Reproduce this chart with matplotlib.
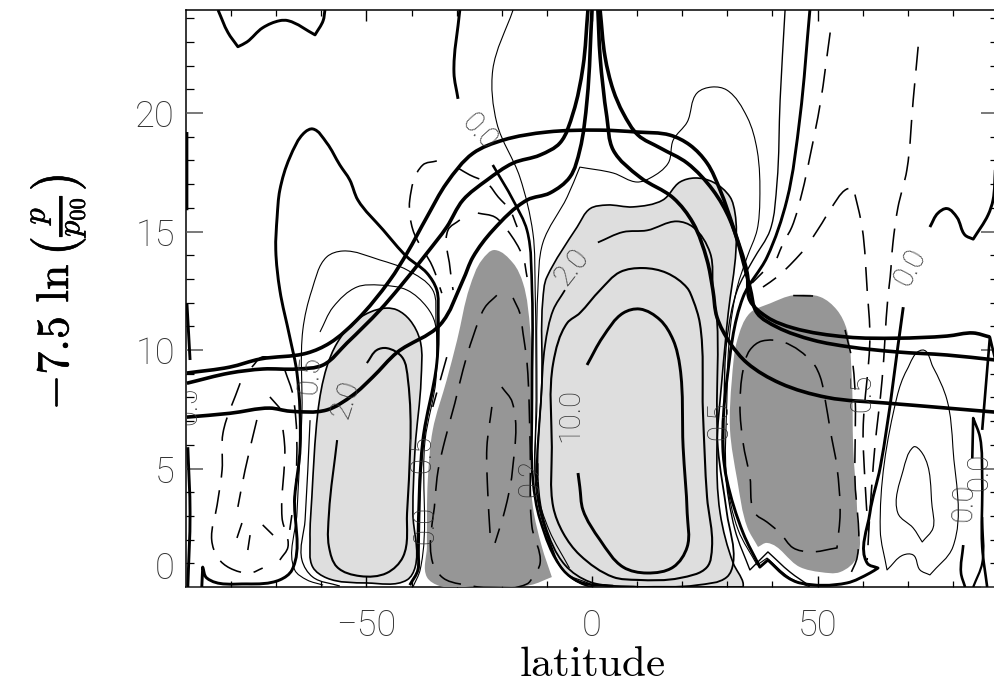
import math
import matplotlib
matplotlib.use("Agg")
import matplotlib.pyplot as plt
import matplotlib.patheffects as pe
from matplotlib.path import Path
from matplotlib.patches import PathPatch
from matplotlib.ticker import FixedLocator

# ---------- filled regions ----------
light_a_lat = [-60.8,-62.1,-62.5,-61.9,-58.8,-49.9,-41,-39.2,-39.7,-39.2,-37.9,-38.1,-40.4,-43.2,-45.5,-49.2,-53,-56.5,-58.8,-60.8]
light_a_z = [7.34,3.8,2,.84,.38,.17,.3,.84,3.12,5.9,8.73,10.4,11.27,11.69,11.77,11.6,11.14,10.3,9.28,7.34]
light_b_lat = [-10,-10.9,-11.1,-12,-10,-6.4,-1.6,10.6,33.5,33.5,31.3,28.4,27.7,28.8,30.2,31.9,31.7,30.6,26.8,22.8,19.5,15.7,9.1,3.3,-.4,-3.3,-10]
light_b_z = [13.08,12.11,8.74,3.8,2.28,.72,.08,0,0,.17,1.01,3.12,5.9,8.74,11.56,14.2,15.78,16.46,17.09,17.26,17.09,16.33,16.04,16.12,15.97,15.19,13.08]
dark_c_lat = [-21.5,-17.5,-15.3,-13.7,-13.3,-13.7,-13.1,-11.1,-8.9,-13.7,-24.8,-33.7,-36.6,-36.6,-36.4,-35.3,-32.2,-29.9,-27.1,-24.4,-21.5]
dark_c_z = [14.22,13.67,12.83,10.85,8.02,5.9,3.38,1.69,.42,.08,.04,.04,.42,1.69,4.51,6.63,8.74,10.42,12.66,13.8,14.22]
dark_d_lat = [44.6,50.6,54.3,56.5,57.6,57.9,58.8,58.8,55,50.6,46.1,38.8,36.8,34.4,32.2,30.6,31,32.2,35,39.5,44.6]
dark_d_z = [12.31,12.24,11.69,10.85,8.74,5.9,3.12,1.27,.63,.63,.84,1.86,1.69,2.53,4.51,6.63,8.74,10.42,11.56,11.97,12.31]

# ---------- thick temperature-like curves ----------
t1_lat = [-89.8,-80.3,-73.6,-63.2,-58.1,-52.1,-44.8,-41,-36.6,-32.2,-26.4,-19.7,-10,1.8,10,17.3,21.7,25.5,28.4,31.3,34.4,35,38.8,44.6,56.5,67.6,78.7,84.5,88.2]
t1_z = [9.03,9.28,9.62,9.87,10.3,11.27,12.95,14.09,15.61,17.05,18.3,18.86,19.2,19.28,19.2,19.07,18.65,17.89,16.75,15.19,13.25,12.1,11.39,10.93,10.55,10.5,10.59,10.72,10.55]
t2l_lat = [-89.8,-80.3,-72.9,-65.4,-59.6,-54.3,-47,-42.6,-36.6,-32.2,-28.6,-23.3,-17.5,-11.5,-7.1,-4.2,-2,-.9]
t2l_z = [8.6,9.03,9.2,9.2,9.37,10.3,11.69,12.66,14.09,15.19,16.33,17.17,17.89,18.23,18.74,20,21.95,24.35]
t2r_lat = [1.8,2.9,4.7,6.9,10.2,15.1,21.1,26.8,30.6,35,36.6,41,49,57.2,67.6,78.7,89.4]
t2r_z = [24.35,22.37,20.97,20,19.07,18.53,17.89,16.75,15.49,12.66,11.56,10.97,10.42,10.13,9.92,9.79,9.58]
t3l_lat = [-89.8,-80.3,-71.4,-67,-58.8,-53,-48.6,-43.2,-33.7,-28.6,-26.4,-22,-14.4,-9.3,-4.9,-2.7,-1.1,0]
t3l_z = [7.17,7.33,7.55,7.42,7.47,8.1,8.86,9.9,11.06,12.95,13.92,15.05,16.33,16.63,17.3,18.44,20.55,24.35]
t3r_lat = [1.3,1.8,3.3,4.7,10.6,18,22.4,25.5,26.8,27.7,30.6,34.4,41.7,52.1,65.4,71.2,78.7,89.4]
t3r_z = [24.35,22.37,19.83,18.44,17.3,16.42,15.36,13.8,12.53,11.39,10.3,9.45,8.6,8,7.76,7.67,7.55,7.38]

# ---------- solid contours ----------
c10_lat = [-1.1,2.4,6.9,10.6,15.1,18,19.5,20.2,21.1,21.1,18,12.2,6.9,1.8,-2,-2.7,-3.1]
c10_z = [9.37,10.55,11.56,11.73,11.27,10.42,9.28,5.9,3.12,1.69,.84,.59,.84,1.98,3.25,4.22,4.81]
c5_lat = [-2.7,1.8,6.2,11.3,16.6,21.1,22.4,23.9,24.6,25.5,26.6,25.5,19.5,10,4.7,-2.7,-6.4,-8.6,-8.9,-8.6,-5.5,-2.7]
c5_z = [11.56,12.53,13.29,13.46,13.25,12.62,12.11,11.14,7.34,3.8,1.69,.84,.38,.3,.42,1.35,2.28,3.38,5.9,9.45,11.14,11.56]
m1r_lat = [1.3,6.9,12.2,18.8,22.4,26.2,26.8,27.7,27.7,27.9,29.9,31.3,29.9,23.3,10.6]
m1r_z = [14.54,14.98,15.05,15.43,15.19,14.09,12.53,11.27,7.34,5.9,3.12,1.01,.42,.08,0]
m1l_lat = [-6,-8.6,-10.4,-11.3,-12,-10.4,-6,-.4,10.6]
m1l_z = [12.53,11.69,10.21,7.89,4.51,2.62,.93,.21,0]
z0l_lat = [-22,-17.5,-14.4,-13.3,-13.3,-13.1,-11.5,-6.4,-2.7,4.7]
z0l_z = [17.81,16.33,15.05,12.53,8.02,4.51,2.83,.72,.21,.04]
z0r_lat = [69,63.9,61.6,61,63.4,61.6,56.5,46.1,43.2,39,37.2,33.5,29.9,29,29.9,33.5,38.8,43.2,46.1,48.3]
z0r_z = [11.81,5.06,3.12,1.01,.8,.59,.17,.17,.42,1.14,.84,2.28,4.51,5.9,8.73,12.24,13.92,16.33,19.83,24.35]
thin1_lat = [-17.5,-22,-21.1,-16,-13.1,-12.6,-12.4,-12.4,-10.4,-6,-.4]
thin1_z = [24.35,21.82,19.58,17.3,14.94,12.53,7.89,4.09,2.41,.63,.13]
thin2_lat = [-5,-9.5,-12.2,-12.2,-12,-10.9,-5.5,-2.7,4.7,10,12.9,16.9,18,21.1,23.3,26.6,29.9,34.4,36.6,37.2,36.6,34.4,32.2,30.6,29.9,29.9,32.4,36.6,38.8,43.9,48.3]
thin2_z = [.8,2.4,4.09,7.89,12.53,14.52,16.46,17.72,17.47,17.09,17.26,17.89,18.86,19.62,20.85,21.1,20.97,19.83,18.44,16.33,15.07,13.93,12.66,10.85,7.89,4.5,2.41,.93,1.22,.38,0]
thin3_lat = [42.8,41.7,41,39.5,35.7,32.2,29.9,29.3,29.5,31.7,35,39,43.9,48.3]
thin3_z = [24.35,20.55,17.05,15.07,13.8,12.53,10.42,7.89,4.94,2.41,.72,1.48,.63,.04]
loop_lat = [73.2,69.8,67.6,63.9,65.4,69,71.2,72.7,74.9,80,80,78.7,75.6,73.2]
loop_z = [10,9.16,8.02,2.41,.72,1.35,1.35,.72,.51,1.69,5.9,7.89,9.28,10]
inner_lat = [71.2,69,67.8,71.2,73.2,75.6,75.4,73.2,71.2]
inner_z = [5.9,4.94,3.12,2.49,1.9,2.49,3.38,5.65,5.9]
r1_lat = [84.3,84.5,86,86.5,86.5,87.6]
r1_z = [5.44,7.13,6.33,4.51,1.69,0]
r2_lat = [82.3,81.8,82.7]
r2_z = [1.77,.59,0]
r3_lat = [86.5,86.5,84.5]
r3_z = [2.95,1.01,0]
r4_lat = [86.5,88.2,89.4]
r4_z = [6.63,10.55,9.58]
r5_lat = [74.9,76.7,78.7,80.9,82.7,84.5,87.8,88.9,89.4]
r5_z = [15.19,15.78,15.97,15.6,14.85,14.68,15.7,16.33,17.6]
l1_lat = [-82.9,-80.7,-78.5,-76.5,-73,-69.2,-67.4,-61.4,-59.6,-59.2]
l1_z = [24.35,23.4,22.8,23,23.6,23.9,23.9,23.3,23.9,24.35]
l2_lat = [-29.3,-30.6,-29.7]
l2_z = [24.35,21.7,20.6]
l3_lat = [-86.5,-86.3,-85.4,-76.5,-69.2,-66.5,-65.9,-64.7,-65.4,-67,-69.2,-70.1,-69.8,-69.2,-67,-63.6,-61.9,-58.8,-55.9,-53.7,-51.9,-46.3,-41,-36.6,-34.4,-34.1,-34.4,-37.5,-38.6,-38.6,-40.4]
l3_z = [0,.84,.38,.13,.3,.72,3.8,5.9,9.03,10.55,12.53,14.22,15.61,16.75,18.12,19.2,19.33,18.74,17.81,17.18,16.33,15.07,13.93,13.25,12.53,11.56,9.45,6.2,1.69,.72,.08]
l4_lat = [-89.8,-89.1]
l4_z = [11.98,9.58]
l5_lat = [-89.6,-89.1,-89.6]
l5_z = [5.9,3.12,0]
l6_lat = [-89.8,-89.8]
l6_z = [19.2,15.9]
s1_lat = [-59.6,-63.2,-65.9,-65.4,-64.3,-64.1,-62.1,-58.8,-55.2,-47,-41,-35.3,-34.6,-34.6,-37,-38.1,-39.7]
s1_z = [.08,.3,.72,3.12,7.34,10.85,12.53,13.93,14.18,13.8,13.38,12.53,11.27,8.74,6.2,.72,0]
s2_lat = [-60.3,-57.4,-52.1,-47,-41,-36.6,-34.8,-34.8,-36.6,-37.7,-38.4]
s2_z = [10.76,11.81,12.66,12.74,12.53,11.81,11.14,8.73,7.04,5.23,.72]
s3_lat = [-62.5,-63.6,-64.3,-61.9,-55.9]
s3_z = [7.04,2.83,1.14,.42,.04]
s4_lat = [-56.5,-58.3,-58.3,-56.5,-51.4,-45.5,-41.9,-41,-40.8,-42.1,-45.5,-47.7,-49.9]
s4_z = [6.2,3.12,1.69,.84,.46,.59,1.27,3.12,8.74,9.7,10.08,10,9.45]

# ---------- dashed contours ----------
d1_lat = [52.8,50.6,48.3,46.6,44.3,42.4,41]
d1_z = [23.4,20.4,18.15,16.67,15.19,14.52,13.88]
d2_lat = [72.3,71.2,69.8,67.8,66.7,66.1,65.6,64.3,62.7,61.6,61]
d2_z = [22.8,20.55,17.6,16,14.5,13.08,12.24,8.73,5.9,3.12,1.14]
d3_lat = [49,51,53.2,56.1,57.9,59.9,61,61.6,60.1,60.5,61.2]
d3_z = [14.77,15.36,16.04,16.75,16.88,15.15,12.53,10.55,6.63,4.51,2.4]
d4_lat = [46.6,43.9,41,37.9]
d4_z = [14.14,13.59,13.08,12.66]
d5_lat = [37.9,35.5]
d5_z = [13.29,12.83]
d6_lat = [-34.4,-37.5,-40.4,-39.7,-35.3,-33.3]
d6_z = [17.98,17.81,16.33,15.07,13.5,12.4]
d7_lat = [-29.7,-27.1,-23.3,-20.8,-18.2,-16.6]
d7_z = [17.68,17.39,17.05,16.46,15.91,15.19]
d8_lat = [-29.3,-31.9,-31.5,-30.8]
d8_z = [15.49,15.07,13.5,12.53]
d9_lat = [-25.3,-21.5,-18.8,-15.3,-14.4]
d9_z = [15.78,15.61,15.07,13.93,13.08]
d10_lat = [-32.2,-35.3]
d10_z = [9.7,7.6]
d11_lat = [-68.1,-66.3,-65.6,-67]
d11_z = [9.16,8.1,4.51,2.41]
d12_lat = [-68.5,-68.1,-68.7,-67.4,-69.2]
d12_z = [6.63,5.9,2.91,1.69,1.14]
d13_lat = [-71.4,-69.2]
d13_z = [8.02,7.55]
d14_lat = [-74.3,-76.9,-78.5]
d14_z = [7.05,4.94,3.38]
d15_lat = [-73,-70.7]
d15_z = [2.62,2.19]
d16_lat = [-78,-81.8,-82,-83.1,-84.3,-82.9,-80.3,-75.8,-73]
d16_z = [8.6,6.5,4.94,3.46,1.98,1.22,.8,.59,.8]
d17_lat = [-77.6,-78.7]
d17_z = [2.7,2.07]
d18_lat = [-75.8,-76.3]
d18_z = [2.19,1.56]
d19_lat = [-75.4,-73.2,-71]
d19_z = [9.28,9.7,9.66]
dco_lat = [-21.1,-23.7,-26.4,-28.6,-30.4,-32.6,-34.1,-34.8,-35.3,-33,-29.3,-14.4,-13.1,-11.5,-13.3,-13.7,-14.4,-15.3,-16,-17.5]
dco_z = [12.31,11.81,10.55,9.16,7.76,6.2,4.94,3.67,1.01,.38,.13,.13,.42,1.01,2.53,5.9,9.45,10.72,11.56,12.2]
dci1_lat = [-20,-17.7,-17.7,-19.3,-21.5]
dci1_z = [8.44,7.81,4.81,3.25,1.86]
dci2_lat = [-22.6,-23.1,-23.3,-22.2]
dci2_z = [2.28,3.97,5.9,7.6]
ddi_lat = [37.7,35,33.5,32.8,33.5,35,36.1,38.8,41.7,44.6,48.3,54.3,55,54.3,52.8,51.7,50.6,49,42.4,37.7]
ddi_z = [10.38,10,9.16,7.6,6.08,4.64,3.12,2.74,2.28,1.65,1.48,1.65,3.12,5.06,6.63,7.89,8.86,9.45,10.34,10.38]
ddo_lat = [56.1,57.9,58.3,58.8,57.2]
ddo_z = [10.85,9.28,4.51,1.27,.5]
ddt_lat = [44.6,49]
ddt_z = [12.3,12.28]

# ---------- contour labels ----------
label_text = ["0.0","2.0","10.0","2.0","0.5","0.0","0.2","0.5","0.5","0.5","0.5","0.0","0.0","0.0"]
label_lat = [-25.1,-4.4,-4.9,-54.7,-37.7,-37,-13.7,-62.5,-89.6,60,28.2,70.5,82.4,85.8]
label_z = [19.2,13.5,7.25,7.9,5.6,2.6,4.6,8.95,7.65,8.2,7,13.5,3.55,4.85]
label_rot = [-48,52,90,72,90,90,90,85,90,90,90,62,88,90]

x_major = [-50,0,50]
x_minor = [-80,-70,-60,-40,-30,-20,-10,10,20,30,40,60,70,80]
x_ticklabels = ["\u221250","0","50"]
y_major = [0,5,10,15,20]
y_minor = [1,2,3,4,6,7,8,9,11,12,13,14,16,17,18,19,21,22,23,24]
x_title = r"$\mathrm{latitude}$"
y_title = r"$-7.5\ \ln\left(\frac{p}{p_{00}}\right)$"

plt.rcParams["mathtext.fontset"] = "cm"
LIGHT = "#dedede"
DARK = "#969696"
THIN_FONT = {"family": ["Roboto", "Open Sans", "DejaVu Sans"], "weight": "light"}
SX, SZ = 4.51, 23.7   # pixels per degree / per unit height, for curve rounding only

fig = plt.figure(figsize=(9.95, 6.87), dpi=100)
ax = fig.add_axes([186/995, 100/687, 812/995, 577/687])
ax.set_xlim(-90, 90)
ax.set_ylim(0, 24.35)

def curve(lat, z):
    """Path through the read points, rounded with Bezier segments; sharp corners stay sharp."""
    n = len(lat)
    closed = n > 3 and lat[0] == lat[-1] and z[0] == z[-1]
    pts = [(a * SX, b * SZ) for a, b in zip(lat, z)]
    def unit(dx, dy):
        d = math.hypot(dx, dy) or 1.0
        return dx / d, dy / d
    tang = []
    for i in range(n):
        if i == 0 or i == n - 1:
            if closed:
                p, q = pts[n - 2], pts[1]
            elif i == 0:
                p, q = pts[0], pts[1]
            else:
                p, q = pts[-2], pts[-1]
            t = unit(q[0] - p[0], q[1] - p[1])
            tang.append((t, t))
            continue
        u = unit(pts[i][0] - pts[i-1][0], pts[i][1] - pts[i-1][1])
        v = unit(pts[i+1][0] - pts[i][0], pts[i+1][1] - pts[i][1])
        if u[0] * v[0] + u[1] * v[1] < 0.35:
            tang.append((u, v))
        else:
            t = unit(u[0] + v[0], u[1] + v[1])
            tang.append((t, t))
    verts = [(lat[0], z[0])]
    codes = [Path.MOVETO]
    for i in range(n - 1):
        p, q = pts[i], pts[i+1]
        d = math.hypot(q[0] - p[0], q[1] - p[1]) / 3
        t0 = tang[i][1]
        t1 = tang[i+1][0]
        verts += [((p[0] + t0[0] * d) / SX, (p[1] + t0[1] * d) / SZ),
                  ((q[0] - t1[0] * d) / SX, (q[1] - t1[1] * d) / SZ),
                  (lat[i+1], z[i+1])]
        codes += [Path.CURVE4] * 3
    return Path(verts, codes)

def solid(lat, z, lw, zorder=4):
    ax.add_patch(PathPatch(curve(lat, z), fill=False, edgecolor="black", lw=lw, zorder=zorder, capstyle="butt", joinstyle="round"))

def dashed(lat, z):
    ax.add_patch(PathPatch(curve(lat, z), fill=False, edgecolor="black", lw=1.15, ls=(0, (15, 8)), zorder=4))

def region(lat, z, face, edge, lw, zorder):
    ax.add_patch(PathPatch(curve(lat, z), facecolor=face, edgecolor=edge, lw=lw, zorder=zorder))

region(light_a_lat, light_a_z, LIGHT, "black", 1.2, 1)
region(light_b_lat, light_b_z, LIGHT, "black", 1.2, 1)
region(dark_c_lat, dark_c_z, DARK, "white", 4.5, 2)
region(dark_d_lat, dark_d_z, DARK, "white", 4.5, 2)
region(dark_c_lat, dark_c_z, DARK, "none", 0, 3)
region(dark_d_lat, dark_d_z, DARK, "none", 0, 3)

for lat, z, lw in [(c10_lat, c10_z, 2.1), (c5_lat, c5_z, 1.5), (m1r_lat, m1r_z, 1.3), (m1l_lat, m1l_z, 1.3),
                   (z0l_lat, z0l_z, 1.9), (z0r_lat, z0r_z, 2.1), (thin1_lat, thin1_z, .8), (thin2_lat, thin2_z, .8),
                   (thin3_lat, thin3_z, 1.0), (loop_lat, loop_z, .8), (inner_lat, inner_z, .8),
                   (r1_lat, r1_z, 1.9), (r2_lat, r2_z, 1.9), (r3_lat, r3_z, 1.6), (r4_lat, r4_z, 1.9), (r5_lat, r5_z, 2.1),
                   (l1_lat, l1_z, 2.1), (l2_lat, l2_z, 2.1), (l3_lat, l3_z, 2.1), (l4_lat, l4_z, 2.1), (l5_lat, l5_z, 2.1), (l6_lat, l6_z, 2.1),
                   (s1_lat, s1_z, .8), (s2_lat, s2_z, .8), (s3_lat, s3_z, .9), (s4_lat, s4_z, 1.5)]:
    solid(lat, z, lw)

for lat, z in [(d1_lat, d1_z), (d2_lat, d2_z), (d3_lat, d3_z), (d4_lat, d4_z), (d5_lat, d5_z), (d6_lat, d6_z),
               (d7_lat, d7_z), (d8_lat, d8_z), (d9_lat, d9_z), (d10_lat, d10_z), (d11_lat, d11_z), (d12_lat, d12_z),
               (d13_lat, d13_z), (d14_lat, d14_z), (d15_lat, d15_z), (d16_lat, d16_z), (d17_lat, d17_z), (d18_lat, d18_z),
               (d19_lat, d19_z), (dco_lat, dco_z), (dci1_lat, dci1_z), (dci2_lat, dci2_z), (ddi_lat, ddi_z),
               (ddo_lat, ddo_z), (ddt_lat, ddt_z)]:
    dashed(lat, z)

for lat, z in [(t1_lat, t1_z), (t2l_lat, t2l_z), (t2r_lat, t2r_z), (t3l_lat, t3l_z), (t3r_lat, t3r_z)]:
    solid(lat, z, 2.6, zorder=5)

for txt, lat, z, rot in zip(label_text, label_lat, label_z, label_rot):
    ax.text(lat, z, txt, rotation=rot, rotation_mode="anchor", ha="center", va="center",
            fontsize=21, color="#333333", zorder=6, clip_on=True, **THIN_FONT)

ax.xaxis.set_major_locator(FixedLocator(x_major))
ax.xaxis.set_minor_locator(FixedLocator(x_minor))
ax.yaxis.set_major_locator(FixedLocator(y_major))
ax.yaxis.set_minor_locator(FixedLocator(y_minor))
ax.set_xticklabels(x_ticklabels, **THIN_FONT)
ax.set_yticks(y_major)
ax.set_yticklabels([str(v) for v in y_major], **THIN_FONT)
ax.tick_params(axis="x", which="major", direction="in", top=True, length=8, width=1, pad=15, labelsize=26, labelcolor="#333333")
ax.tick_params(axis="x", which="minor", direction="in", top=True, length=4, width=.9)
ax.tick_params(axis="y", which="major", direction="in", right=True, length=12, width=1.1, pad=8, labelsize=26, labelcolor="#333333", color="#555555")
ax.tick_params(axis="y", which="minor", direction="in", right=True, length=6, width=.9)
ax.get_yticklabels()[0].set_va("bottom")
for s in ax.spines.values():
    s.set_linewidth(1.1)
ax.set_axisbelow(False)

fig.text(592/995, 1-664/687, x_title, ha="center", va="center", fontsize=31, color="black")
fig.text(58/995, 1-293/687, y_title, ha="center", va="center", rotation=90, fontsize=33, color="black",
         path_effects=[pe.withStroke(linewidth=0.4, foreground="black")])

fig.savefig("out.png", dpi=100)
